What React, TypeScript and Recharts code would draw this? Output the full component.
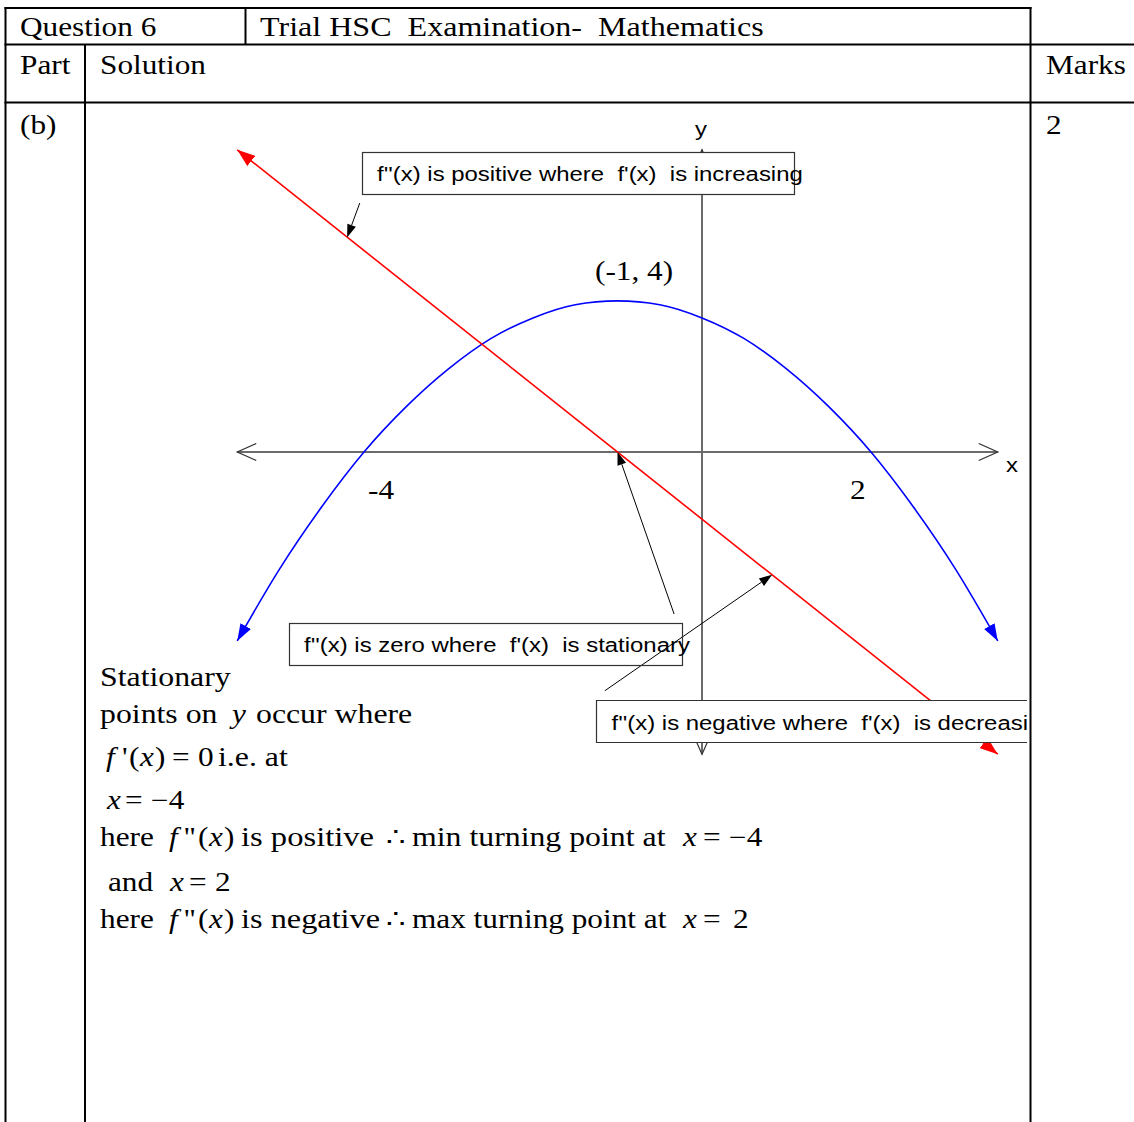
import React from "react";
import { LineChart, Line, XAxis, YAxis, ReferenceLine } from "recharts";

// f'(x), the blue parabola (x units, y units)
const blueX = [-5.5, -5, -4.5, -4, -3.5, -3, -2.5, -2, -1.5, -1, -0.5, 0, 0.5, 1, 1.5, 2, 2.5, 3, 3.5];
const blueY = [-5, -3.1, -1.45, 0, 1.2, 2.2, 3, 3.55, 3.9, 4, 3.9, 3.55, 3, 2.2, 1.2, 0, -1.45, -3.1, -5];

// f''(x), the red straight line
const redX = [-5.5, 3.5];
const redY = [8, -8];

// drawn axes
const xAxisX = [-5.5, 3.5];
const xAxisY = [0, 0];
const yAxisX = [0, 0];
const yAxisY = [8, -8];

// callout arrows: [fromX, fromY, toX, toY]
const callouts = [
  [-4.05, 6.59, -4.2, 5.68],
  [-0.33, -4.29, -1, 0],
  [-1.15, -6.32, 0.83, -3.25],
];

const pts = (xs: number[], ys: number[]) => xs.map((x, i) => ({ x, y: ys[i] }));

const blueData = pts(blueX, blueY);
const redData = pts(redX, redY);
const xAxisData = pts(xAxisX, xAxisY);
const yAxisData = pts(yAxisX, yAxisY);

const SERIF = "'Liberation Serif', 'Times New Roman', serif";
const SANS = "'Liberation Sans', Arial, sans-serif";

const T = ({ x, y, sans, sx, children }: any) => (
  <text
    transform={`translate(${x},${y}) scale(${sx ?? (sans ? 1.14 : 1.18)},1)`}
    fontFamily={sans ? SANS : SERIF}
    fontSize={sans ? 21 : 26.5}
    fill="#000"
    style={{ whiteSpace: "pre" }}
  >
    {children}
  </text>
);

const I = ({ children }: any) => <tspan fontStyle="italic">{children}</tspan>;

// f ''(x) set the way the equation editor spaces it
const Fpp = ({ y }: { y: number }) => (
  <>
    <T x={169} y={y}><I>f</I></T>
    <T x={184} y={y}>''</T>
    <T x={198} y={y}>(</T>
    <T x={209} y={y}><I>x</I></T>
    <T x={224} y={y}>)</T>
  </>
);

const calloutShape = (p: any) => {
  const { x1, y1, x2, y2 } = p;
  const a = Math.atan2(y2 - y1, x2 - x1);
  const len = 13;
  const half = 4.5;
  const bx = x2 - len * Math.cos(a);
  const by = y2 - len * Math.sin(a);
  const nx = -Math.sin(a) * half;
  const ny = Math.cos(a) * half;
  return (
    <g>
      <line x1={x1} y1={y1} x2={bx} y2={by} stroke="#000" strokeWidth={1} />
      <polygon points={`${x2},${y2} ${bx + nx},${by + ny} ${bx - nx},${by - ny}`} fill="#000" />
    </g>
  );
};

const Markers = () => (
  <svg width={0} height={0} style={{ position: "absolute" }}>
    <defs>
      <marker id="arrBlue" viewBox="0 0 17 12" refX={17} refY={6} markerWidth={17} markerHeight={12}
        markerUnits="userSpaceOnUse" orient="auto-start-reverse">
        <path d="M0,0 L17,6 L0,12 z" fill="#0000ff" />
      </marker>
      <marker id="arrRed" viewBox="0 0 18 13" refX={18} refY={6.5} markerWidth={18} markerHeight={13}
        markerUnits="userSpaceOnUse" orient="auto-start-reverse">
        <path d="M0,0 L18,6.5 L0,13 z" fill="#ff0000" />
      </marker>
      <marker id="arrAxis" viewBox="-1 -1 22 19" refX={19} refY={8.5} markerWidth={22} markerHeight={19}
        markerUnits="userSpaceOnUse" orient="auto-start-reverse">
        <path d="M0,0 L19,8.5 L0,17" fill="none" stroke="#333" strokeWidth={1.2} />
      </marker>
    </defs>
  </svg>
);

export default function App() {
  return (
    <div style={{ position: "absolute", left: 0, top: 0, width: 1134, height: 1122, overflow: "hidden", background: "#fff" }}>
      <Markers />
      <div style={{ position: "absolute", left: 195, top: 112 }}>
        <LineChart width={845} height={680} margin={{ top: 0, right: 0, bottom: 0, left: 0 }}>
          <XAxis type="number" dataKey="x" domain={[-6, 4]} allowDataOverflow hide />
          <YAxis type="number" domain={[-9, 9]} allowDataOverflow hide />
          <Line data={xAxisData} dataKey="y" stroke="#6b6b6b" strokeWidth={2} dot={false} activeDot={false}
            isAnimationActive={false} markerStart="url(#arrAxis)" markerEnd="url(#arrAxis)" />
          <Line data={yAxisData} dataKey="y" stroke="#6b6b6b" strokeWidth={2} dot={false} activeDot={false}
            isAnimationActive={false} markerStart="url(#arrAxis)" markerEnd="url(#arrAxis)" />
          <Line data={blueData} dataKey="y" type="monotone" stroke="#0000ff" strokeWidth={1.6} dot={false}
            activeDot={false} isAnimationActive={false} markerStart="url(#arrBlue)" markerEnd="url(#arrBlue)" />
          <Line data={redData} dataKey="y" stroke="#ff0000" strokeWidth={1.6} dot={false} activeDot={false}
            isAnimationActive={false} markerStart="url(#arrRed)" markerEnd="url(#arrRed)" />
          {callouts.map((c, i) => (
            <ReferenceLine key={i} segment={[{ x: c[0], y: c[1] }, { x: c[2], y: c[3] }]} shape={calloutShape} />
          ))}
        </LineChart>
      </div>

      <svg width={1134} height={1122} style={{ position: "absolute", left: 0, top: 0, pointerEvents: "none" }}>
        <defs>
          <clipPath id="box3clip">
            <rect x={596} y={699} width={431} height={45} />
          </clipPath>
        </defs>
        {/* table rules */}
        <g stroke="#000" strokeWidth={2}>
          <line x1={4.5} y1={8} x2={1031.5} y2={8} />
          <line x1={4.5} y1={44.5} x2={1134} y2={44.5} />
          <line x1={4.5} y1={102.5} x2={1134} y2={102.5} />
          <line x1={5.5} y1={7} x2={5.5} y2={1122} />
          <line x1={85} y1={44.5} x2={85} y2={1122} />
          <line x1={245.5} y1={8} x2={245.5} y2={44.5} />
          <line x1={1030.5} y1={7} x2={1030.5} y2={1122} />
        </g>

        <T x={20} y={36}>Question 6</T>
        <T x={260} y={36} sx={1.21}>Trial HSC  Examination-  Mathematics</T>
        <T x={20} y={74}>Part</T>
        <T x={100} y={74}>Solution</T>
        <T x={1046} y={74}>Marks</T>
        <T x={20} y={134}>(b)</T>
        <T x={1046} y={134}>2</T>

        {/* graph labels */}
        <T x={595} y={280}>(-1, 4)</T>
        <T x={368} y={499}>-4</T>
        <T x={850} y={499}>2</T>
        <T x={1006} y={472} sans>x</T>
        <T x={695} y={136} sans>y</T>

        {/* callout boxes */}
        <rect x={362.5} y={152.5} width={432} height={42} fill="#fff" stroke="#333" strokeWidth={1.2} />
        <T x={377} y={181} sans>f''(x) is positive where  f'(x)  is increasing</T>
        <rect x={289.5} y={623.5} width={393} height={42} fill="none" stroke="#333" strokeWidth={1.2} />
        <T x={304} y={652} sans>f''(x) is zero where  f'(x)  is stationary</T>
        <rect x={596.5} y={700.5} width={430.5} height={42} fill="#fff" stroke="none" />
        <path d="M1027,700.5 H596.5 V742.5 H1027" fill="none" stroke="#333" strokeWidth={1.2} />
        <g clipPath="url(#box3clip)">
          <T x={611.5} y={729.5} sans>f''(x) is negative where  f'(x)  is decreasing</T>
        </g>

        {/* working */}
        <T x={100} y={686} sx={1.2}>Stationary</T>
        <T x={100} y={723} sx={1.2}>points on</T>
        <T x={232} y={723}><I>y</I></T>
        <T x={256} y={723} sx={1.2}>occur where</T>

        <T x={106} y={766}><I>f</I></T>
        <T x={122} y={766}>'</T>
        <T x={129} y={766}>(</T>
        <T x={140} y={766}><I>x</I></T>
        <T x={155} y={766}>)</T>
        <T x={172} y={766}>=</T>
        <T x={198} y={766}>0</T>
        <T x={218} y={766} sx={1.2}>i.e. at</T>

        <T x={107} y={809}><I>x</I></T>
        <T x={125} y={809}>=</T>
        <T x={151} y={809}>−4</T>

        <T x={100} y={846}>here</T>
        <Fpp y={846} />
        <T x={241} y={846} sx={1.23}>is positive</T>
        <T x={386} y={846}>∴</T>
        <T x={412} y={846} sx={1.2}>min turning point at</T>
        <T x={683} y={846}><I>x</I></T>
        <T x={703} y={846}>=</T>
        <T x={729} y={846}>−4</T>

        <T x={108} y={891}>and</T>
        <T x={170} y={891}><I>x</I></T>
        <T x={189} y={891}>=</T>
        <T x={215} y={891}>2</T>

        <T x={100} y={928}>here</T>
        <Fpp y={928} />
        <T x={241} y={928} sx={1.22}>is negative</T>
        <T x={386} y={928}>∴</T>
        <T x={412} y={928} sx={1.18}>max turning point at</T>
        <T x={683} y={928}><I>x</I></T>
        <T x={703} y={928}>=</T>
        <T x={733} y={928}>2</T>
      </svg>
    </div>
  );
}
